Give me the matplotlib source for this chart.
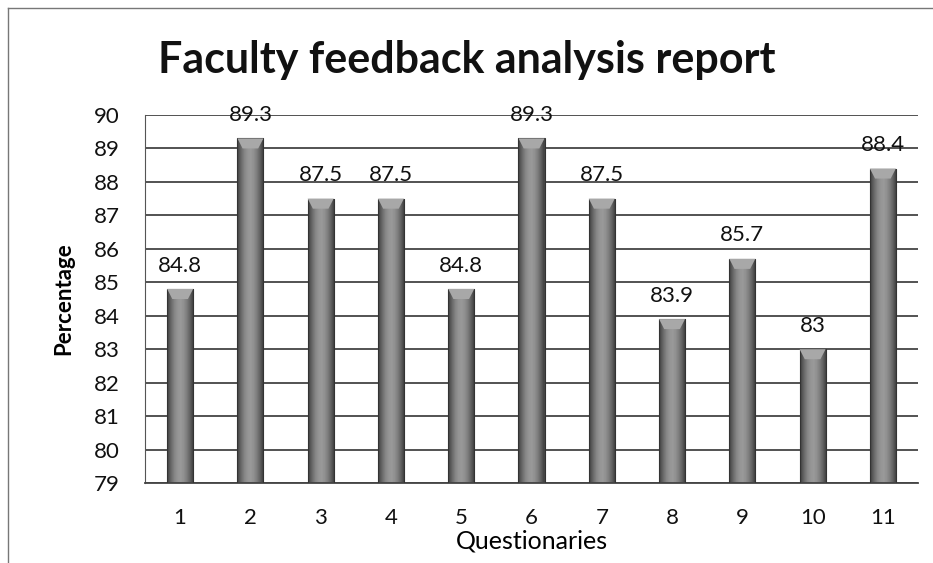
import numpy as np
import matplotlib
matplotlib.use("Agg")
import matplotlib.pyplot as plt
from matplotlib.patches import Polygon

# chart data
questions = ["1", "2", "3", "4", "5", "6", "7", "8", "9", "10", "11"]
percentages = [84.8, 89.3, 87.5, 87.5, 84.8, 89.3, 87.5, 83.9, 85.7, 83, 88.4]
y_ticks = [79, 80, 81, 82, 83, 84, 85, 86, 87, 88, 89, 90]

plt.rcParams['font.family'] = ['Lato', 'DejaVu Sans']

fig = plt.figure(figsize=(9.33, 5.63), dpi=100)
ax = fig.add_axes([145 / 933, 1 - 483 / 563, (918 - 145) / 933, (483 - 115) / 563])

x = np.arange(len(questions))
base = y_ticks[0]
heights = [v - base for v in percentages]
bars = ax.bar(x, heights, width=0.37, bottom=base, color='none', edgecolor='#333333',
              linewidth=0.8, zorder=3)

# horizontal shading: dark edges, lighter middle
grad = np.array([0.30, 0.42, 0.52, 0.58, 0.60, 0.57, 0.50, 0.40, 0.28])
grad = np.tile(grad, (2, 1))
for b in bars:
    bx, by = b.get_x(), b.get_y()
    bw, bh = b.get_width(), b.get_height()
    im = ax.imshow(grad, cmap='gray', vmin=0, vmax=1, aspect='auto',
                   extent=[bx, bx + bw, by, by + bh], zorder=2, interpolation='bilinear')
    im.set_clip_path(b)
    # bevelled top
    top = by + bh
    ax.add_patch(Polygon([(bx, top), (bx + bw, top), (bx + bw * 0.8, top - 0.3),
                          (bx + bw * 0.2, top - 0.3)], closed=True, color='#a8a8a8',
                         zorder=3, lw=0))

for xi, v in zip(x, percentages):
    ax.text(xi, v + 0.4, f"{v:g}", ha='center', va='bottom', fontsize=16, color='#111111', zorder=4)

ax.set_xlim(-0.5, len(questions) - 0.5)
ax.set_ylim(y_ticks[0], y_ticks[-1])
ax.set_yticks(y_ticks)
ax.set_xticks(x)
ax.set_xticklabels(questions)
ax.tick_params(axis='both', length=0, labelsize=16, colors='#111111')
ax.tick_params(axis='x', pad=18)
ax.tick_params(axis='y', pad=18)
ax.yaxis.grid(True, color='#444444', linewidth=1.3)
ax.set_axisbelow(True)
for side in ['top', 'right']:
    ax.spines[side].set_visible(False)
ax.spines['left'].set_color('#555555')
ax.spines['bottom'].set_color('#444444')
ax.spines['bottom'].set_linewidth(1.3)

ax.set_ylabel('Percentage', fontsize=16, fontweight='bold', labelpad=14)
ax.set_xlabel('Questionaries', fontsize=18, labelpad=1)

fig.text(0.5, 1 - 60 / 563, 'Faculty feedback analysis report', ha='center', va='center',
         fontsize=31, fontweight='bold', color='#111111')

# outer frame of the original chart area
fig.add_artist(plt.Line2D([8 / 933, 1], [1 - 8 / 563, 1 - 8 / 563], color='#777777', lw=1))
fig.add_artist(plt.Line2D([8 / 933, 8 / 933], [0, 1 - 8 / 563], color='#777777', lw=1))

fig.savefig('out.png', dpi=100)
